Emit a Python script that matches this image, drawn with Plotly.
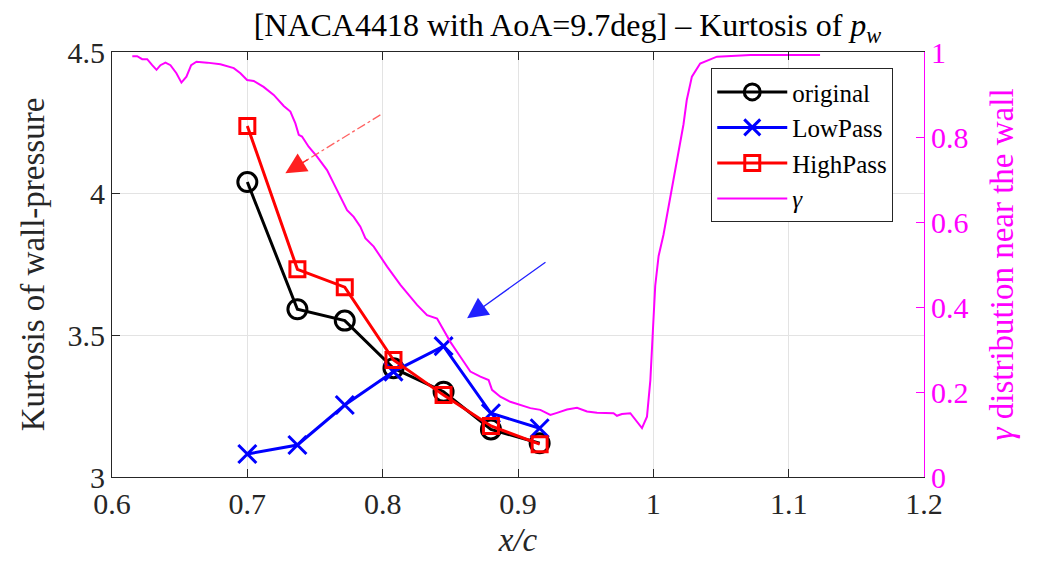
import plotly.graph_objects as go

# ---- data ----
x_pos = [0.700, 0.737, 0.772, 0.808, 0.845, 0.880, 0.916]
k_original = [4.041, 3.592, 3.552, 3.384, 3.301, 3.168, 3.119]
k_lowpass = [3.081, 3.113, 3.254, 3.372, 3.462, 3.225, 3.172]
k_highpass = [4.239, 3.733, 3.670, 3.413, 3.289, 3.180, 3.116]

gamma_x = [0.615, 0.6186, 0.6223, 0.626, 0.6297, 0.6329, 0.6358, 0.6395, 0.6432, 0.6476,
           0.6513, 0.655, 0.6585, 0.6624, 0.6703, 0.6801, 0.69, 0.6949, 0.6998, 0.7047,
           0.712, 0.7195, 0.7269, 0.7318, 0.7355, 0.738, 0.7404, 0.7453, 0.7515, 0.7589,
           0.7638, 0.7688, 0.7737, 0.7786, 0.7835, 0.7872, 0.7934, 0.8033, 0.8131, 0.8254,
           0.8328, 0.8402, 0.845, 0.85, 0.8574, 0.8648, 0.8722, 0.8783, 0.8808, 0.8869,
           0.8943, 0.9017, 0.9091, 0.9165, 0.9239, 0.9288, 0.9362, 0.9436, 0.951, 0.9584,
           0.9657, 0.9706, 0.9731, 0.9768, 0.983, 0.9879, 0.9916, 0.9953, 0.9978, 0.9997,
           1.0014, 1.0039, 1.0075, 1.0149, 1.0223, 1.0247, 1.0285, 1.0346, 1.047, 1.0717,
           1.099, 1.1232]
gamma_y = [0.990, 0.990, 0.983, 0.983, 0.969, 0.958, 0.969, 0.975, 0.969, 0.950,
           0.928, 0.942, 0.969, 0.977, 0.975, 0.971, 0.962, 0.950, 0.934, 0.932,
           0.918, 0.899, 0.873, 0.860, 0.832, 0.805, 0.801, 0.777, 0.754, 0.722,
           0.691, 0.660, 0.628, 0.612, 0.589, 0.562, 0.542, 0.495, 0.452, 0.405,
           0.381, 0.373, 0.346, 0.318, 0.283, 0.248, 0.236, 0.228, 0.205, 0.189,
           0.177, 0.169, 0.162, 0.158, 0.146, 0.151, 0.159, 0.163, 0.154, 0.151,
           0.150, 0.150, 0.144, 0.148, 0.150, 0.130, 0.115, 0.142, 0.228, 0.346,
           0.450, 0.520, 0.570, 0.700, 0.830, 0.887, 0.942, 0.973, 0.989, 0.993,
           0.993, 0.993]

# arrow annotations (tail -> head) in data units of x / left y
red_arrow_tail = (0.7983, 4.278)
red_arrow_head = (0.7281, 4.072)
blue_arrow_tail = (0.9214, 3.762)
blue_arrow_head = (0.8624, 3.560)

FONT = "Liberation Serif, Times New Roman, serif"
MAG = "#ff00ff"
AX = "#262626"

fig = go.Figure()
fig.add_trace(go.Scatter(x=x_pos, y=k_original, name="original", mode="lines+markers",
                         line=dict(color="black", width=3),
                         marker=dict(symbol="circle-open", size=19, color="black",
                                     line=dict(width=3, color="black"))))
fig.add_trace(go.Scatter(x=x_pos, y=k_lowpass, name="LowPass", mode="lines+markers",
                         line=dict(color="#0000ff", width=3),
                         marker=dict(symbol="x-thin-open", size=18, color="#0000ff",
                                     line=dict(width=3, color="#0000ff"))))
fig.add_trace(go.Scatter(x=x_pos, y=k_highpass, name="HighPass", mode="lines+markers",
                         line=dict(color="#ff0000", width=3),
                         marker=dict(symbol="square-open", size=15, color="#ff0000",
                                     line=dict(width=3, color="#ff0000"))))
fig.add_trace(go.Scatter(x=gamma_x, y=gamma_y, name="<i>γ</i>", mode="lines", yaxis="y2",
                         line=dict(color=MAG, width=2)))

# arrows
fig.add_shape(type="line", xref="x", yref="y",
              x0=red_arrow_tail[0], y0=red_arrow_tail[1],
              x1=red_arrow_head[0] + 0.1 * (red_arrow_tail[0] - red_arrow_head[0]),
              y1=red_arrow_head[1] + 0.1 * (red_arrow_tail[1] - red_arrow_head[1]),
              line=dict(color="rgba(255,70,70,0.85)", width=1.3, dash="dashdot"))
fig.add_annotation(x=red_arrow_head[0], y=red_arrow_head[1],
                   ax=red_arrow_head[0] + 0.25 * (red_arrow_tail[0] - red_arrow_head[0]),
                   ay=red_arrow_head[1] + 0.25 * (red_arrow_tail[1] - red_arrow_head[1]),
                   xref="x", yref="y", axref="x", ayref="y", text="", showarrow=True,
                   arrowhead=2, arrowsize=3.2, arrowwidth=1.3, arrowcolor="#ff2020")
fig.add_annotation(x=blue_arrow_head[0], y=blue_arrow_head[1],
                   ax=blue_arrow_tail[0], ay=blue_arrow_tail[1],
                   xref="x", yref="y", axref="x", ayref="y", text="", showarrow=True,
                   arrowhead=2, arrowsize=3.2, arrowwidth=1.3, arrowcolor="#2020ff")

fig.update_layout(
    width=1040, height=567, autosize=False,
    margin=dict(l=111.5, r=116, t=52, b=90, autoexpand=False),
    paper_bgcolor="white", plot_bgcolor="white",
    font=dict(family=FONT, size=30, color=AX),
    title=dict(text="[NACA4418 with AoA=9.7deg] – Kurtosis of <i>p</i><sub><i>w</i></sub>",
               x=0.5705 * (812.5 / 1040) + 111.5 / 1040 + 0.008, xanchor="center", xref="paper",
               y=1 - 25 / 567, yanchor="middle", yref="container",
               font=dict(family=FONT, size=32, color="black")),
    xaxis=dict(range=[0.6, 1.2], dtick=0.1, tick0=0.6, showgrid=True, gridcolor="#e3e3e3",
               gridwidth=1, showline=True, linecolor=AX, linewidth=1.2, mirror="ticks",
               ticks="inside", ticklen=8, tickcolor=AX, zeroline=False,
               tickfont=dict(family=FONT, size=30, color=AX),
               title=dict(text="<i>x/c</i>", font=dict(family=FONT, size=33, color=AX),
                          standoff=8)),
    yaxis=dict(range=[3, 4.5], dtick=0.5, tick0=3, showgrid=True, gridcolor="#e3e3e3",
               gridwidth=1, showline=True, linecolor=AX, linewidth=1.2,
               ticks="inside", ticklen=8, tickcolor=AX, zeroline=False,
               tickfont=dict(family=FONT, size=30, color=AX),
               title=dict(text="Kurtosis of wall-pressure",
                          font=dict(family=FONT, size=33, color=AX), standoff=12)),
    yaxis2=dict(range=[0, 1], dtick=0.2, tick0=0, overlaying="y", side="right",
                showgrid=False, showline=True, linecolor=MAG, linewidth=1.2,
                ticks="inside", ticklen=8, tickcolor=MAG, zeroline=False,
                tickfont=dict(family=FONT, size=30, color=MAG),
                title=dict(text="<i>γ</i> distribution near the wall",
                           font=dict(family=FONT, size=33, color=MAG), standoff=22)),
    legend=dict(x=0.738, y=0.962, xanchor="left", yanchor="top",
                bgcolor="white", bordercolor=AX, borderwidth=1,
                font=dict(family=FONT, size=25, color="black"),
                tracegroupgap=0, itemwidth=70, itemsizing="trace"),
    showlegend=True,
)

fig.write_html("out.html")
